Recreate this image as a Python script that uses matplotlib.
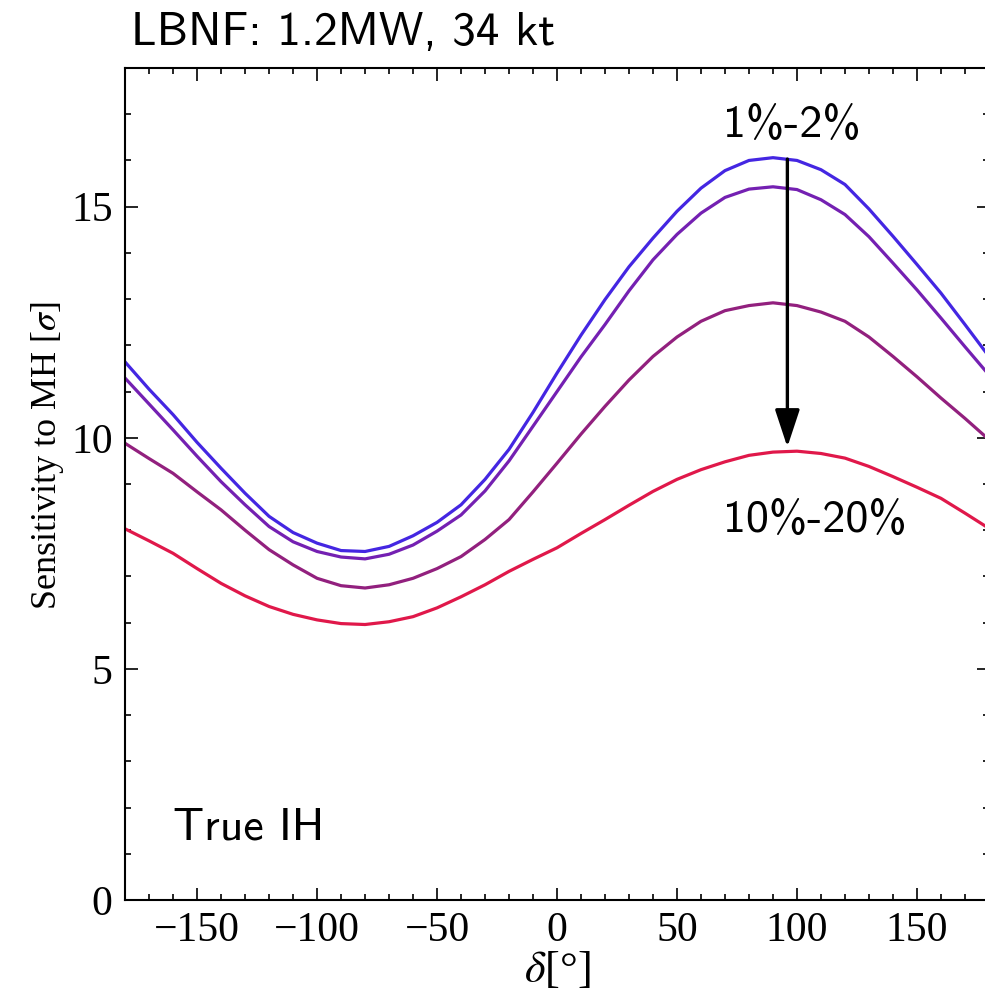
import numpy as np
import matplotlib.pyplot as plt
from matplotlib.ticker import MultipleLocator

plt.rcParams["mathtext.fontset"] = "stix"

# delta_CP grid in degrees
delta = [-180, -170, -160, -150, -140, -130, -120, -110, -100, -90, -80, -70,
         -60, -50, -40, -30, -20, -10, 0, 10, 20, 30, 40, 50, 60, 70, 80, 90,
         100, 110, 120, 130, 140, 150, 160, 170, 180]

# sensitivity to MH [sigma], systematics from 1%-2% down to 10%-20%
sens_1 = [11.64, 11.05, 10.50, 9.90, 9.34, 8.80, 8.30, 7.95, 7.72, 7.56, 7.54, 7.65,
          7.88, 8.17, 8.55, 9.10, 9.75, 10.55, 11.40, 12.22, 12.99, 13.70, 14.32, 14.90,
          15.40, 15.78, 16.00, 16.06, 16.00, 15.80, 15.48, 14.95, 14.36, 13.75, 13.13,
          12.45, 11.76]
sens_2 = [11.29, 10.73, 10.17, 9.60, 9.05, 8.55, 8.08, 7.75, 7.54, 7.42, 7.38, 7.48,
          7.68, 7.98, 8.33, 8.85, 9.50, 10.25, 11.00, 11.75, 12.45, 13.18, 13.85, 14.40,
          14.86, 15.20, 15.38, 15.43, 15.37, 15.15, 14.83, 14.35, 13.78, 13.20, 12.59,
          11.97, 11.36]
sens_3 = [9.88, 9.55, 9.23, 8.83, 8.44, 8.00, 7.58, 7.25, 6.96, 6.80, 6.75, 6.82,
          6.96, 7.17, 7.43, 7.80, 8.23, 8.83, 9.45, 10.08, 10.68, 11.25, 11.76, 12.18,
          12.52, 12.75, 12.86, 12.92, 12.86, 12.72, 12.52, 12.18, 11.76, 11.32, 10.86,
          10.42, 9.96]
sens_4 = [8.03, 7.77, 7.50, 7.17, 6.85, 6.58, 6.35, 6.18, 6.06, 5.98, 5.96, 6.02,
          6.13, 6.32, 6.56, 6.82, 7.11, 7.37, 7.62, 7.93, 8.23, 8.54, 8.84, 9.10,
          9.31, 9.48, 9.62, 9.69, 9.71, 9.66, 9.56, 9.38, 9.16, 8.93, 8.69,
          8.37, 8.04]

curves = [sens_1, sens_2, sens_3, sens_4]
colors = ["#4426e2", "#7420b2", "#92207e", "#e0184a"]

fig = plt.figure(figsize=(9.85, 10), dpi=100)
ax = fig.add_axes([0.127, 0.100, 0.877, 0.832])

for s, c in zip(curves, colors):
    ax.plot(delta, s, color=c, lw=2.3)

ax.set_xlim(-180, 180)
ax.set_ylim(0, 18)
ax.xaxis.set_major_locator(MultipleLocator(50))
ax.xaxis.set_minor_locator(MultipleLocator(10))
ax.yaxis.set_major_locator(MultipleLocator(5))
ax.yaxis.set_minor_locator(MultipleLocator(1))
ax.tick_params(which="both", direction="in", top=True, right=True, width=1.2)
ax.tick_params(which="major", length=9)
ax.tick_params(which="minor", length=4.5)
ax.tick_params(axis="x", pad=8)
ax.tick_params(axis="y", pad=9)
for lab in ax.get_xticklabels() + ax.get_yticklabels():
    lab.set_fontfamily("Liberation Serif")
    lab.set_fontsize(30)
for sp in ax.spines.values():
    sp.set_linewidth(1.5)

ax.set_xlabel(r"$\delta$[°]", fontsize=32, family="Liberation Serif", labelpad=0)
ax.set_ylabel(r"Sensitivity to MH [$\sigma$]", fontsize=26,
              family="Liberation Serif")
ax.yaxis.set_label_coords(-0.068, 0.534)

# arrow from the 1%-2% curve down to the 10%-20% curve
ax.annotate("", xy=(96, 9.8), xytext=(96, 16.03),
            arrowprops=dict(arrowstyle="-|>,head_length=1.15,head_width=0.38",
                            mutation_scale=20, lw=2.4, color="black",
                            shrinkA=0, shrinkB=0))
ax.text(98, 16.75, "1%-2%", fontsize=33, family="cmss10", ha="center", va="center")
ax.text(107.5, 8.22, "10%-20%", fontsize=33, family="cmss10", ha="center", va="center")
ax.text(-160, 1.56, "True IH", fontsize=33, family="cmss10", ha="left", va="center")

fig.text(0.133, 0.967, "LBNF: 1.2MW, 34 kt", fontsize=34, family="cmss10",
         ha="left", va="center")

fig.savefig("out.png", dpi=100)
